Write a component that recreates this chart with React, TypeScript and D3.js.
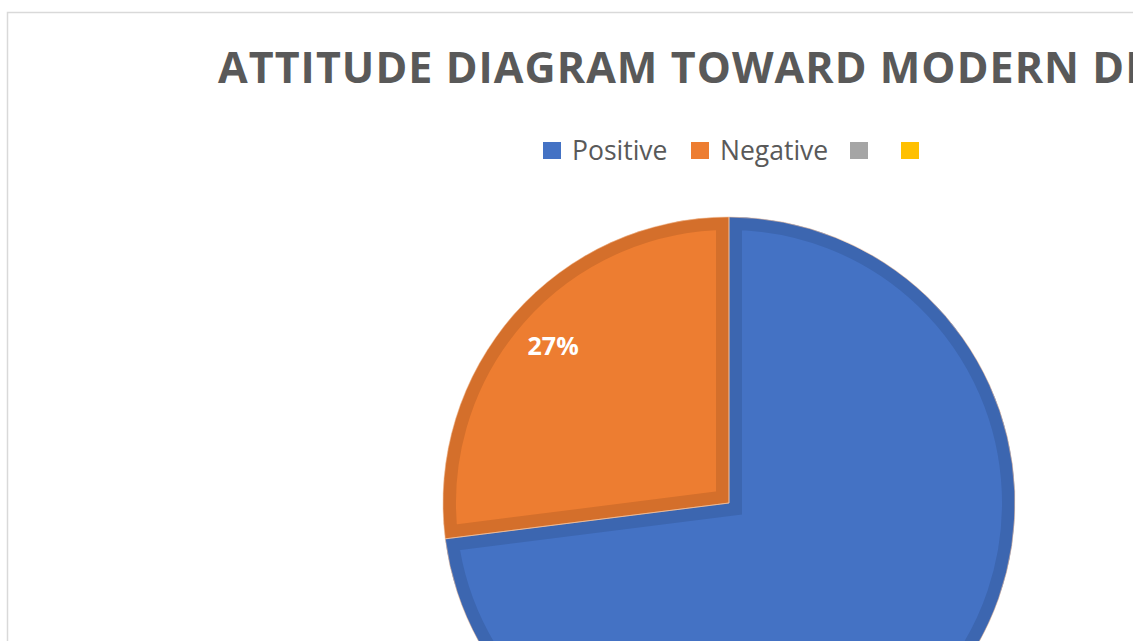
import React from "react";
import * as d3 from "d3";

const categories = ["Positive", "Negative", "", ""];
const values = [73, 27, 0, 0];
const colors = ["#4472C4", "#ED7D31", "#A5A5A5", "#FFC000"];
const darkColors = ["#3C66B0", "#D46F2B", "#949494", "#E5AC00"];
const title = "ATTITUDE DIAGRAM TOWARD MODERN DRUGS";

const W = 1133;
const H = 641;

export default function App() {
  const cx = 729;
  const cy = 503;
  const r = 286;
  const data = categories.map((c, i) => ({ c, v: values[i], i }));
  const pie = d3.pie<any>().sort(null).value((d: any) => d.v);
  const arcs = pie(data);
  const arc = d3.arc<any>().innerRadius(0).outerRadius(r);
  const labelArc = d3.arc<any>().innerRadius(r * 0.82).outerRadius(r * 0.82);
  const total = d3.sum(values);

  const legendItems = [
    { x: 543, label: categories[0], i: 0 },
    { x: 691, label: categories[1], i: 1 },
    { x: 850, label: categories[2], i: 2 },
    { x: 901, label: categories[3], i: 3 },
  ];

  return (
    <svg
      width={W}
      height={H}
      style={{ position: "absolute", left: 0, top: 0, background: "#fff" }}
    >
      <rect x={7.5} y={12.5} width={1200} height={700} fill="#fff" stroke="#D9D9D9" strokeWidth={1.5} />
      <text
        x={218}
        y={83}
        fontFamily="'Open Sans', sans-serif"
        fontWeight={700}
        fontSize={43}
        fill="#595959"
        letterSpacing={1.05}
      >
        {title}
      </text>
      {legendItems.map((d) => (
        <g key={d.i}>
          <rect x={d.x} y={142} width={18} height={17} fill={colors[d.i]} />
          {d.label && (
            <text
              x={d.x + 29}
              y={160}
              fontFamily="'Open Sans', sans-serif"
              fontSize={26.5}
              fill="#595959"
            >
              {d.label}
            </text>
          )}
        </g>
      ))}
      <defs>
        {arcs.map((a: any, k: number) => (
          <clipPath id={`clip${k}`} key={k}>
            <path d={arc(a) || ""} transform={`translate(${cx},${cy})`} />
          </clipPath>
        ))}
      </defs>
      <g transform={`translate(${cx},${cy})`}>
        {arcs.map((a: any, k: number) =>
          a.data.v > 0 ? (
            <g key={k} clipPath={`url(#clip${k})`} transform={`translate(${-cx},${-cy})`}>
              <g transform={`translate(${cx},${cy})`}>
                <path d={arc(a) || ""} fill={colors[a.data.i]} stroke={darkColors[a.data.i]} strokeWidth={26} strokeLinejoin="miter" />
              </g>
            </g>
          ) : null
        )}
        {arcs.map((a: any, k: number) =>
          a.data.v > 0 ? (
            <path key={`s${k}`} d={arc(a) || ""} fill="none" stroke="#F2C3A0" strokeWidth={1} strokeOpacity={0.6} />
          ) : null
        )}
        {arcs.map((a: any, k: number) => {
          if (a.data.v <= 0) return null;
          const [lx, ly] = labelArc.centroid(a);
          return (
            <text
              key={`l${k}`}
              x={lx}
              y={ly - 2}
              dy="0.35em"
              textAnchor="middle"
              fontFamily="'Open Sans', sans-serif"
              fontWeight={700}
              fontSize={25}
              fill="#fff"
            >
              {Math.round((a.data.v / total) * 100)}%
            </text>
          );
        })}
      </g>
    </svg>
  );
}
